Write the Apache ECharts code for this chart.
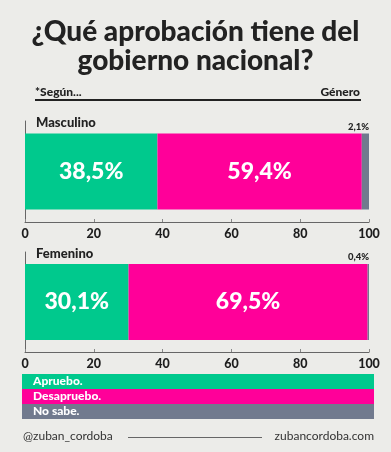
<!DOCTYPE html>
<html>
<head>
<meta charset="utf-8">
<script src="https://cdn.jsdelivr.net/npm/echarts@6/dist/echarts.min.js"></script>
<style>
  html, body { margin: 0; padding: 0; background: #ecece9; }
  #chart { width: 391px; height: 452px; }
</style>
</head>
<body>
<div id="chart"></div>
<script>
// datos
const categories = ['Masculino', 'Femenino'];
const answers = ['Apruebo.', 'Desapruebo.', 'No sabe.'];
const apruebo = [38.5, 30.1];
const desapruebo = [59.4, 69.5];
const noSabe = [2.1, 0.4];
const colors = ['#00c98d', '#ff0099', '#717a8e'];

const font = 'Lato';
const pct = v => v.toFixed(1).replace('.', ',') + '%';

const grids = [
  { left: 25, right: 22, top: 121, height: 101 },
  { left: 25, right: 22, top: 252, height: 100 }
];

const xAxes = grids.map((g, i) => ({
  gridIndex: i,
  type: 'value',
  min: 0,
  max: 100,
  interval: 20,
  axisLine: { show: true, lineStyle: { color: '#666', width: 1 } },
  axisTick: { show: true, inside: true, length: 3, lineStyle: { color: '#888' } },
  axisLabel: { color: '#1e1e1e', fontFamily: font, fontWeight: 900, fontSize: 12.5, margin: 5 },
  splitLine: { show: false }
}));

const yAxes = grids.map((g, i) => ({
  gridIndex: i,
  type: 'category',
  data: [categories[i]],
  axisLine: { show: true, onZero: false, lineStyle: { color: '#666', width: 1 } },
  axisTick: { show: false },
  axisLabel: { show: false },
  name: categories[i],
  nameLocation: 'end',
  nameGap: -2,
  nameTextStyle: {
    align: 'left', verticalAlign: 'middle', padding: [0, 0, 0, 11],
    color: '#222', fontFamily: font, fontWeight: 900, fontSize: 13
  }
}));

const values = [apruebo, desapruebo, noSabe];
const series = [];
grids.forEach((g, gi) => {
  values.forEach((arr, si) => {
    const small = si === 2;
    series.push({
      name: answers[si],
      type: 'bar',
      stack: 'g' + gi,
      xAxisIndex: gi,
      yAxisIndex: gi,
      barWidth: 76,
      data: [arr[gi]],
      itemStyle: { color: colors[si] },
      label: small ? {
        show: true,
        position: ['100%', -2],
        align: 'right',
        verticalAlign: 'bottom',
        formatter: p => pct(p.value),
        color: '#222', fontFamily: font, fontWeight: 900, fontSize: 9.5
      } : {
        show: true,
        position: 'inside',
        formatter: p => pct(p.value),
        color: '#fff', fontFamily: font, fontWeight: 900, fontSize: 23
      }
    });
  });
});

const chart = echarts.init(document.getElementById('chart'));
chart.setOption({
  backgroundColor: '#ecece9',
  animation: false,
  title: [
    {
      text: '¿Qué aprobación tiene del\ngobierno nacional?',
      left: 'center', top: 12,
      textStyle: { color: '#222', fontFamily: font, fontWeight: 900, fontSize: 28, lineHeight: 29, align: 'center' }
    },
    {
      text: '*Según...', left: 30, top: 81,
      textStyle: { color: '#222', fontFamily: font, fontWeight: 900, fontSize: 12 }
    },
    {
      text: 'Género', right: 26, top: 81,
      textStyle: { color: '#222', fontFamily: font, fontWeight: 900, fontSize: 12 }
    }
  ],
  grid: grids,
  xAxis: xAxes,
  yAxis: yAxes,
  series: series,
  legend: {
    orient: 'vertical',
    left: 17,
    top: 374,
    itemGap: 0,
    itemWidth: 0,
    itemHeight: 0,
    selectedMode: false,
    padding: 0,
    data: answers.map((a, i) => ({
      name: a,
      icon: 'rect',
      textStyle: {
        color: '#fff', fontFamily: font, fontWeight: 900, fontSize: 12,
        backgroundColor: colors[i],
        width: 341, lineHeight: 15, padding: [0, 0, 0, 11]
      }
    }))
  },
  graphic: [
    { type: 'line', shape: { x1: 35, y1: 100, x2: 361, y2: 100 }, style: { stroke: '#222', lineWidth: 2 } },
    { type: 'text', left: 23, top: 430, style: { text: '@zuban_cordoba', fill: '#333', font: '12px Lato' } },
    { type: 'line', shape: { x1: 128, y1: 437.5, x2: 262, y2: 437.5 }, style: { stroke: '#666', lineWidth: 1 } },
    { type: 'text', right: 17, top: 430, style: { text: 'zubancordoba.com', fill: '#333', font: '12px Lato' } }
  ]
});
</script>
</body>
</html>
